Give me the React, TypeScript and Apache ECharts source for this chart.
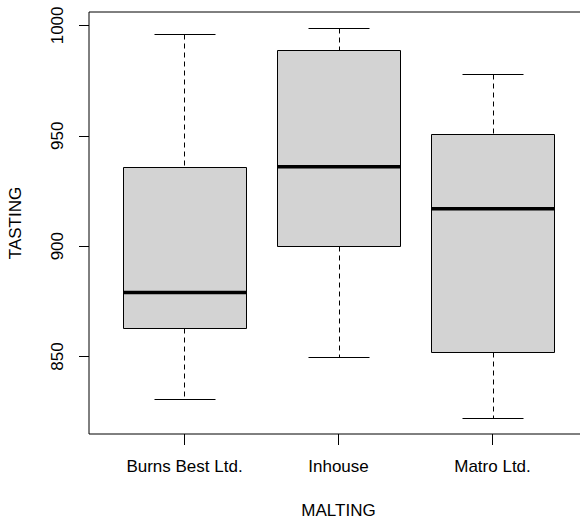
import React, { useEffect, useRef } from "react";
import * as echarts from "echarts";

const categories = ["Burns Best Ltd.", "Inhouse", "Matro Ltd."];
const lowerWhisker = [831, 850, 822];
const lowerQuartile = [863, 900, 852];
const medians = [879, 936, 917];
const upperQuartile = [936, 989, 951];
const upperWhisker = [996, 999, 978];
const yTicks = [850, 900, 950, 1000];
const xTicks = [1, 2, 3];

const FONT = "'Liberation Sans', Arial, sans-serif";

export default function App() {
  const ref = useRef<HTMLDivElement>(null);

  useEffect(() => {
    if (!ref.current) return;
    const chart = echarts.init(ref.current, undefined, { renderer: "svg" });

    const dataMin = Math.min(...lowerWhisker);
    const dataMax = Math.max(...upperWhisker);
    const pad = (dataMax - dataMin) * 0.04;
    const nCat = categories.length;
    const xPad = nCat * 0.04;

    const boxData = categories.map((_, i) => [
      i + 1,
      lowerWhisker[i],
      lowerQuartile[i],
      medians[i],
      upperQuartile[i],
      upperWhisker[i],
    ]);

    const crisp = (v: number) => Math.round(v) + 0.5;

    chart.setOption({
      animation: false,
      textStyle: { fontFamily: FONT },
      grid: {
        left: 89,
        top: 12,
        bottom: 86,
        right: -8,
        show: true,
        borderColor: "#000",
        borderWidth: 1,
        backgroundColor: "transparent",
        outerBoundsMode: "none",
        containLabel: false,
      },
      xAxis: {
        type: "value",
        min: 0.5 - xPad,
        max: nCat + 0.5 + xPad,
        name: "MALTING",
        nameLocation: "middle",
        nameGap: 68,
        nameTextStyle: { fontSize: 17, color: "#000", fontFamily: FONT },
        axisLine: { show: false },
        splitLine: { show: false },
        axisTick: {
          show: true,
          length: 11,
          customValues: xTicks,
          lineStyle: { color: "#000", width: 1 },
        },
        axisLabel: {
          customValues: xTicks,
          margin: 24,
          fontSize: 17,
          color: "#000",
          fontFamily: FONT,
          formatter: (v: number) => categories[Math.round(v) - 1] ?? "",
        },
      },
      yAxis: {
        type: "value",
        min: dataMin - pad,
        max: dataMax + pad,
        name: "TASTING",
        nameLocation: "middle",
        nameRotate: 90,
        nameGap: 65,
        nameTextStyle: { fontSize: 17, color: "#000", fontFamily: FONT },
        axisLine: { show: false },
        splitLine: { show: false },
        axisTick: {
          show: true,
          length: 10,
          customValues: yTicks,
          lineStyle: { color: "#000", width: 1 },
        },
        axisLabel: {
          customValues: yTicks,
          rotate: 90,
          margin: 23,
          fontSize: 17,
          color: "#000",
          fontFamily: FONT,
          formatter: (v: number) => String(v),
        },
      },
      series: [
        {
          type: "custom",
          data: boxData,
          renderItem: (params: any, api: any) => {
            const x = api.value(0);
            const lo = api.value(1);
            const q1 = api.value(2);
            const med = api.value(3);
            const q3 = api.value(4);
            const hi = api.value(5);
            const halfBox = api.size([0.4, 0])[0];
            const halfCap = api.size([0.2, 0])[0];
            const c = api.coord([x, med]);
            const cx = crisp(c[0]);
            const yLo = crisp(api.coord([x, lo])[1]);
            const yQ1 = crisp(api.coord([x, q1])[1]);
            const yMed = api.coord([x, med])[1];
            const yQ3 = crisp(api.coord([x, q3])[1]);
            const yHi = crisp(api.coord([x, hi])[1]);
            const bx1 = crisp(c[0] - halfBox);
            const bx2 = crisp(c[0] + halfBox);
            const cx1 = crisp(c[0] - halfCap);
            const cx2 = crisp(c[0] + halfCap);
            const solid = { stroke: "#000", lineWidth: 1 };
            const dashed = { stroke: "#000", lineWidth: 1, lineDash: [5, 4] };
            return {
              type: "group",
              children: [
                { type: "line", shape: { x1: cx, y1: yHi, x2: cx, y2: yQ3 }, style: dashed },
                { type: "line", shape: { x1: cx, y1: yQ1, x2: cx, y2: yLo }, style: dashed },
                { type: "line", shape: { x1: cx1, y1: yHi, x2: cx2, y2: yHi }, style: solid },
                { type: "line", shape: { x1: cx1, y1: yLo, x2: cx2, y2: yLo }, style: solid },
                {
                  type: "rect",
                  shape: { x: bx1, y: yQ3, width: bx2 - bx1, height: yQ1 - yQ3 },
                  style: { fill: "#D3D3D3", stroke: "#000", lineWidth: 1 },
                },
                {
                  type: "line",
                  shape: { x1: bx1, y1: yMed, x2: bx2, y2: yMed },
                  style: { stroke: "#000", lineWidth: 3.5 },
                },
              ],
            };
          },
        },
      ],
    });

    return () => chart.dispose();
  }, []);

  return (
    <div
      ref={ref}
      style={{ position: "fixed", left: 0, top: 0, width: 580, height: 520, background: "#fff" }}
    />
  );
}
